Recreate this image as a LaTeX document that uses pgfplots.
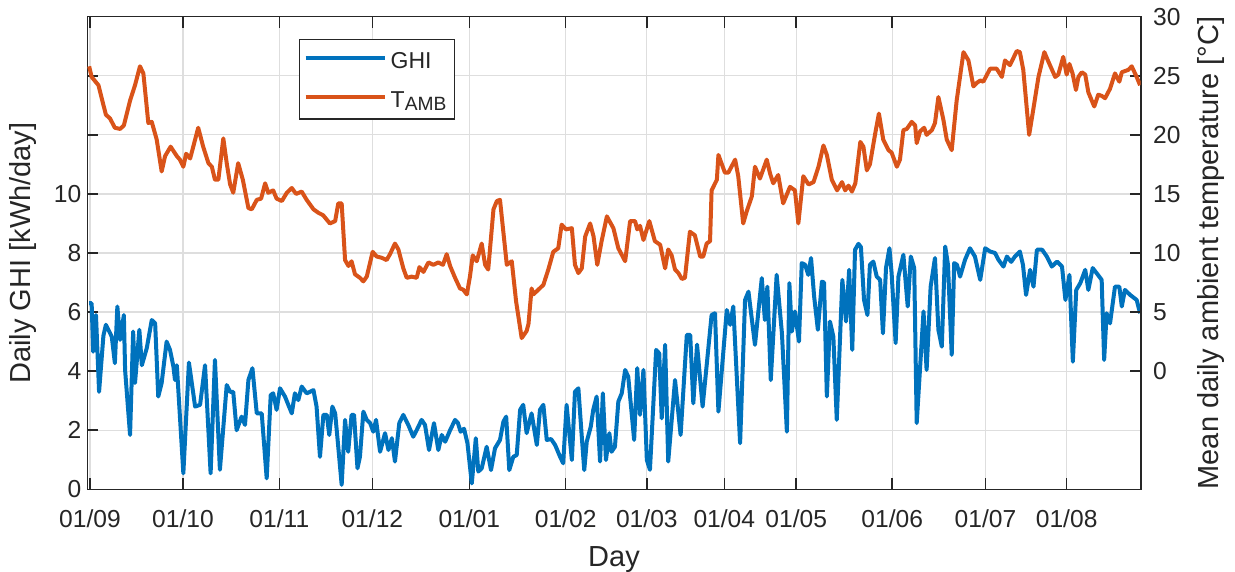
\documentclass[border=0pt]{standalone}
\usepackage{fontspec}
\setmainfont{Liberation Sans}
\usepackage{pgfplots}
\pgfplotsset{compat=1.18}

\definecolor{ghiblue}{rgb}{0,0.447,0.741}
\definecolor{tamborange}{rgb}{0.850,0.325,0.098}
\definecolor{axiscol}{rgb}{0.15,0.15,0.15}
\definecolor{gridcol}{rgb}{0.87,0.87,0.87}

% Daily global horizontal irradiation, kWh/day (day index, value)
\pgfplotstableread{
d v
0.6 6.3
1.4 6.3
1.9 4.66
2.8 5.9
3.8 3.3
5.2 5.2
6.0 5.57
7.9 5.17
8.9 4.27
9.7 6.19
10.6 5.06
11.8 5.9
12.2 4.04
13.8 1.84
14.8 5.34
15.4 3.6
16.8 5.4
17.6 4.2
19.2 4.78
20.8 5.73
21.9 5.62
22.9 3.14
24.0 3.6
25.6 5.0
26.7 4.72
27.8 4.15
28.3 3.7
28.9 4.2
31.0 0.54
32.8 4.29
34.8 2.8
36.4 2.86
38.0 4.2
39.8 0.54
41.2 4.38
42.8 0.66
45.0 3.53
46.1 3.3
47.1 3.3
48.2 2.0
49.8 2.46
50.9 2.18
52.0 3.7
53.3 4.1
54.7 2.57
56.3 2.57
57.9 0.37
59.2 3.19
60.0 3.25
61.1 2.69
62.2 3.42
63.8 3.14
66.0 2.57
67.0 3.25
68.1 3.02
69.2 3.48
70.8 3.25
71.9 3.3
73.0 3.36
74.0 2.8
75.1 1.1
76.2 2.52
77.3 2.52
78.1 1.84
79.1 2.8
80.0 2.57
81.0 1.44
82.1 0.15
83.2 2.35
84.2 1.27
85.3 2.52
86.1 2.52
87.2 0.71
88.0 1.1
89.1 2.63
90.2 2.35
91.3 2.24
92.3 1.95
93.2 2.35
94.5 1.27
96.1 1.9
97.2 1.33
98.3 1.73
99.3 0.94
100.7 2.24
102.0 2.52
103.6 2.18
105.2 1.78
106.3 2.0
107.9 2.35
109.0 2.18
110.3 1.33
111.9 2.24
113.3 1.33
114.4 1.84
115.5 1.61
117.1 2.0
118.7 2.35
119.6 2.25
120.5 1.95
121.6 2.05
122.7 1.56
124.1 0.2
125.4 1.73
126.2 0.6
127.3 0.71
128.9 1.44
130.3 0.65
131.6 1.39
133.2 1.67
134.3 2.29
135.2 2.46
136.2 0.65
137.5 1.1
138.6 1.16
139.7 2.69
140.7 2.86
141.8 1.9
143.4 2.57
145.1 1.5
146.1 2.69
147.2 2.86
148.3 1.67
149.7 1.7
151.0 1.5
152.6 1.1
153.6 0.88
154.7 2.86
156.4 0.99
157.4 3.3
158.5 3.42
159.6 1.78
160.4 0.65
161.2 1.61
162.5 2.12
163.3 2.69
164.4 3.14
165.5 0.94
166.4 3.25
167.4 0.99
168.5 1.9
169.2 1.27
170.3 1.44
171.4 2.97
172.5 3.25
173.6 4.04
174.6 3.81
176.5 1.67
177.5 4.1
178.4 2.52
179.5 4.04
180.6 0.99
181.6 0.66
183.6 4.72
184.6 4.6
185.4 2.4
186.5 4.89
187.5 0.94
189.7 3.7
191.5 1.84
193.5 5.23
194.6 5.23
195.6 2.91
196.8 4.9
198.6 2.8
201.5 5.9
202.6 5.96
203.7 2.63
206.4 6.07
207.5 5.57
208.5 6.19
210.7 1.56
212.3 6.41
213.4 6.69
215.5 4.89
217.7 7.15
218.7 5.73
219.5 6.86
220.6 3.7
222.5 7.26
224.2 5.28
225.8 1.95
226.6 6.98
227.4 5.34
228.4 6.02
229.7 5.0
230.6 7.66
231.7 7.6
232.7 7.26
233.6 7.83
234.6 6.52
235.8 5.4
237.1 7.03
237.8 7.0
238.7 3.14
239.7 5.68
240.8 5.17
241.9 2.35
243.7 7.09
244.9 5.68
245.9 7.43
246.9 4.72
247.8 8.11
248.9 8.31
249.7 8.2
250.7 6.41
251.8 5.9
252.6 7.6
253.7 7.71
254.8 7.2
255.9 7.09
256.8 5.28
257.8 7.5
258.9 8.16
259.6 7.32
260.9 4.95
261.8 7.2
263.4 7.94
264.8 6.19
265.8 7.88
266.9 7.49
267.7 2.24
269.9 6.02
270.9 4.04
272.2 6.86
273.6 7.83
274.7 5.4
275.8 4.83
276.9 8.22
277.8 7.6
279.0 4.55
279.8 7.66
280.7 7.6
281.7 7.2
283.3 7.77
284.9 8.16
286.5 7.88
288.2 7.09
289.8 8.16
291.4 8.05
293.0 8.0
294.1 7.77
295.7 7.54
296.8 7.88
298.2 7.7
299.4 7.88
301.0 8.05
302.0 7.6
303.0 6.58
304.3 7.43
305.4 6.86
306.5 8.11
308.2 8.11
309.7 7.88
311.3 7.54
313.0 7.71
314.6 7.54
315.7 6.41
317.0 7.26
318.1 4.32
319.2 6.75
320.5 6.98
322.1 7.43
323.1 6.75
324.5 7.49
325.9 7.3
327.4 7.09
328.2 4.38
329.0 5.96
330.1 5.62
331.7 6.86
333.1 6.86
333.9 6.19
334.9 6.75
336.6 6.58
338.7 6.41
339.8 5.96
}\ghidata

% Mean daily ambient temperature, degrees C (day index, value)
\pgfplotstableread{
d v
0.6 25.8
1.4 24.9
3.6 24.2
6.0 21.7
7.3 21.4
8.9 20.6
10.6 20.5
11.8 20.8
13.8 22.9
15.4 24.2
17.0 25.8
18.1 25.2
19.7 21.0
20.8 21.1
22.4 19.6
24.0 16.9
25.1 18.2
26.9 19.0
28.9 18.2
29.9 17.9
31.0 17.3
31.9 18.4
33.2 18.0
35.8 20.6
37.4 19.0
39.1 17.6
40.2 17.3
41.2 16.2
42.3 16.2
43.9 19.7
45.0 17.6
46.1 15.8
47.1 15.1
48.7 17.6
50.2 16.2
52.0 13.8
53.1 13.7
54.7 14.5
56.1 14.6
57.4 15.9
58.4 15.1
60.0 15.3
61.1 14.6
62.8 14.4
64.4 15.1
66.0 15.5
67.4 15.0
69.2 15.2
70.8 14.5
73.0 13.7
74.6 13.4
76.1 13.2
78.3 12.5
80.0 12.7
81.0 14.2
82.1 14.2
83.2 9.4
84.3 8.9
85.3 9.3
86.4 8.2
88.0 7.9
89.1 7.6
90.2 8.0
92.1 10.1
93.4 9.7
95.0 9.6
96.6 9.4
97.7 9.9
99.3 10.8
100.4 10.3
102.0 8.7
103.1 7.9
104.7 8.0
106.3 7.9
107.2 8.8
108.5 8.4
110.1 9.2
111.7 9.0
113.3 9.2
114.8 9.0
116.0 9.9
117.1 8.9
118.7 7.9
120.3 7.0
121.3 6.9
122.5 6.5
123.5 8.0
124.4 9.8
125.7 9.3
127.3 10.8
128.4 9.0
129.4 8.6
131.1 13.7
132.2 14.4
133.2 14.5
135.4 9.0
137.0 9.3
138.4 5.9
140.2 2.8
141.8 3.4
142.4 4.0
143.4 7.0
144.0 6.5
145.6 6.9
147.2 7.3
148.8 8.6
150.4 10.1
152.0 10.4
153.1 12.4
154.5 12.0
156.4 12.1
157.4 9.0
158.5 8.3
159.6 8.7
160.7 11.4
162.3 12.5
163.4 11.4
164.6 9.0
166.0 11.0
167.7 13.1
169.8 12.1
171.4 10.4
173.6 9.3
175.2 12.7
176.8 12.7
177.5 12.0
178.4 12.3
179.5 11.1
181.4 12.7
183.2 11.0
184.9 10.7
186.5 8.7
187.5 10.3
188.6 9.8
189.7 8.6
190.8 8.3
191.9 7.8
192.9 7.9
194.5 11.8
196.1 11.5
197.8 9.7
198.8 9.7
199.9 10.8
201.0 11.0
201.5 15.3
203.2 16.2
203.7 18.3
205.8 16.8
206.9 16.8
209.1 17.9
210.1 16.5
211.7 12.5
212.8 13.5
214.5 14.8
215.5 17.3
217.1 16.3
219.3 17.9
220.4 16.7
221.4 15.9
223.0 16.6
224.6 14.2
226.8 15.6
228.4 15.3
229.5 12.5
231.1 16.5
232.8 15.8
234.4 16.0
236.0 17.3
237.6 19.1
238.7 18.3
240.3 16.2
242.0 15.3
243.6 16.0
244.6 15.3
245.7 15.7
246.8 15.2
247.9 15.9
249.5 19.4
250.5 19.0
251.6 17.0
252.6 17.5
254.3 20.1
255.5 21.8
256.9 19.6
258.6 18.7
259.6 18.5
261.3 17.3
262.3 17.9
263.4 20.4
264.5 20.5
266.1 21.1
267.2 20.8
267.7 19.3
268.8 20.3
270.1 20.6
270.9 20.0
272.6 20.4
273.6 21.0
274.7 23.2
276.3 21.3
277.4 19.6
279.0 18.7
280.6 22.9
282.8 27.0
284.4 26.3
286.0 24.1
287.1 24.4
288.2 24.6
289.2 24.5
291.4 25.6
293.5 25.6
295.2 24.9
296.2 26.3
297.8 25.9
300.0 27.1
301.0 27.0
302.1 25.5
304.0 20.0
305.3 22.1
307.0 24.9
308.9 27.0
310.2 26.2
312.4 24.9
313.4 25.1
315.0 26.6
316.1 25.1
317.0 26.0
318.0 25.2
319.1 23.8
319.9 24.9
321.0 25.3
322.1 25.1
323.1 23.6
325.0 22.4
326.3 23.4
327.4 23.3
328.5 23.1
330.1 23.9
331.7 25.2
333.1 24.5
333.9 25.3
336.0 25.5
337.1 25.8
338.7 24.9
339.8 24.2
}\tambdata

\pgfplotsset{
  common/.style={
    at={(0,0)}, anchor=south west,
    scale only axis, width=526.7pt, height=236.3pt,
    xmin=0, xmax=340,
    tick align=inside,
    major tick length=5.5pt,
    axis line style={axiscol, line width=0.8pt},
    tick style={axiscol, line width=0.8pt},
    tick label style={font=\fontsize{12.3}{14}\selectfont, text=axiscol},
    /pgf/number format/assume math mode=true,
    label style={font=\fontsize{14.5}{17}\selectfont, text=axiscol},
    clip=true,
  },
  ghistyle/.style={ghiblue, line width=2pt, line join=round, mark=none},
  tstyle/.style={tamborange, line width=2pt, line join=round, mark=none},
}

\begin{document}
\begin{tikzpicture}
\useasboundingbox (-43.65pt,-41.35pt) rectangle (573.85pt,244.65pt);

% left axis: irradiation
\begin{axis}[common,
  ymin=0, ymax=16,
  ytick={0,2,...,14},
  yticklabels={0,2,4,6,8,10,,},
  ytick pos=left, xtick pos=both,
  xtick={0.87,30.89,61.98,92.0,123.3,154.4,180.6,205.6,228.8,259.8,289.9,316.1},
  xticklabels={01/09,01/10,01/11,01/12,01/01,01/02,01/03,01/04,01/05,01/06,01/07,01/08},
  grid=major,
  major grid style={gridcol, line width=0.6pt},
  xticklabel style={anchor=base, yshift=-19pt},
  yticklabel style={anchor=east, inner sep=0pt, xshift=-2.8pt},
  xlabel={Day},
  xlabel style={at={(axis description cs:0.5,-0.1638)}, anchor=base},
  ylabel={Daily GHI [kWh/day]},
  ylabel style={at={(axis description cs:-0.048,0.5)}, anchor=south, inner sep=0pt},
]
\addplot[ghistyle] table[x=d, y=v] {\ghidata};
\end{axis}

% right axis: ambient temperature
\begin{axis}[common,
  ymin=-10, ymax=30,
  ytick={0,5,...,30},
  axis x line=none,
  axis y line*=right,
  yticklabel style={anchor=west, inner sep=0pt, xshift=6pt},
  ylabel={Mean daily ambient temperature [°C]},
  ylabel style={at={(axis description cs:1.0532,0.5)}, anchor=north, inner sep=0pt},
  legend cell align=left,
  legend style={at={(axis description cs:0.2010,0.9528)}, anchor=north west,
    draw=axiscol, line width=0.7pt, fill=white,
    font=\fontsize{11.5}{13}\selectfont, text=axiscol,
    inner xsep=2pt, inner ysep=2pt, row sep=3.35pt,
    nodes={inner xsep=2pt, inner ysep=1pt, text height=11.35pt, text depth=2.8pt}},
  legend image code/.code={\draw[#1] (0pt,1pt) -- (39.5pt,1pt);},
]
\addlegendimage{ghistyle}
\addlegendentry{GHI}
\addplot[tstyle] table[x=d, y=v] {\tambdata};
\addlegendentry{T\raisebox{-1.7pt}{\fontsize{9.6}{10}\selectfont AMB}}
\end{axis}
\end{tikzpicture}
\end{document}
